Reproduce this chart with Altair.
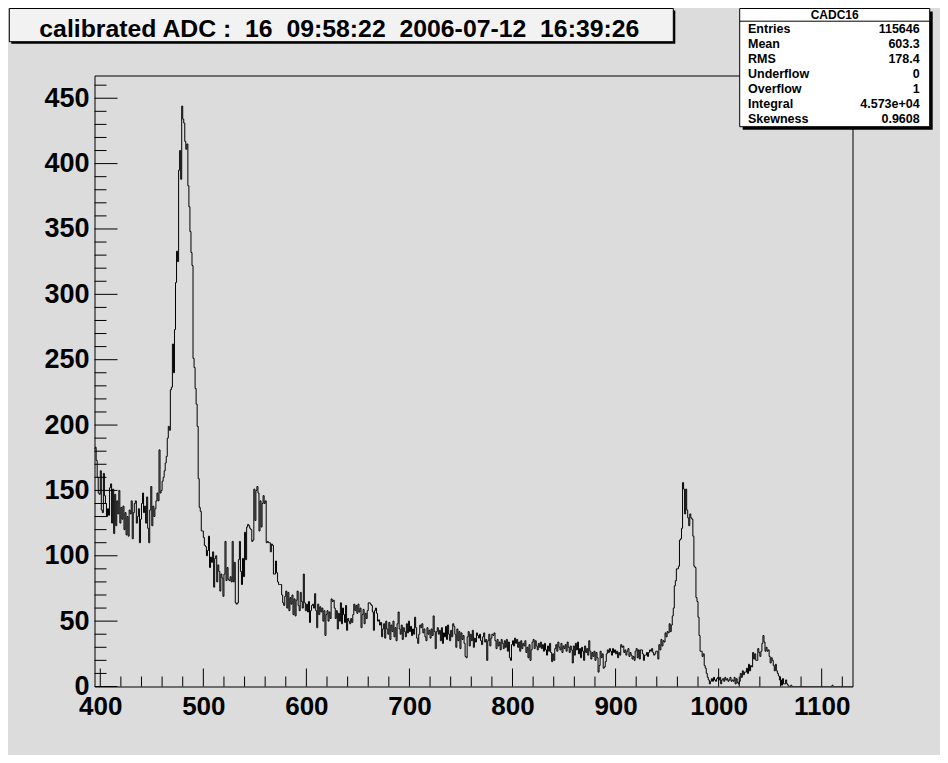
import altair as alt
import pandas as pd

# ---------------- data ----------------
title_text = "calibrated ADC :  16  09:58:22  2006-07-12  16:39:26"
stat_name = "CADC16"
stat_labels = ["Entries", "Mean", "RMS", "Underflow", "Overflow", "Integral", "Skewness"]
stat_values = ["115646", "603.3", "178.4", "0", "1", "4.573e+04", "0.9608"]

x_major = [400, 500, 600, 700, 800, 900, 1000, 1100]
y_major = [0, 50, 100, 150, 200, 250, 300, 350, 400, 450]

# counts per 1-unit ADC bin, each list starts at the bin given in its name
counts_394 = [182, 183, 173, 160, 148, 147, 165, 135, 133, 163,
              146, 140, 130, 136, 131, 152, 155, 125, 151, 117,
              147, 123, 142, 132, 150, 125, 137, 128, 138, 120,
              133, 116, 130, 115, 135, 132, 142, 113, 133, 140,
              142, 125, 130, 136, 110, 128, 140, 148, 133, 138,
              125, 145, 121, 110, 135, 153, 123, 138, 130, 136,
              142, 148, 142, 181, 148, 150, 157, 160, 165, 171,
              176, 190]
counts_466 = [199, 196, 227, 229, 262, 240, 273, 309, 333, 325,
              395, 410, 388, 444, 434, 431, 417, 411, 415, 383,
              367, 348, 332, 322, 251, 244, 228, 216, 199]
counts_495 = [159, 137, 134, 119, 119, 114, 108, 107, 100, 104,
              115, 91, 99, 95, 103, 76, 98, 100, 80, 93,
              88, 73, 86, 83, 69, 86, 111, 81, 91, 82,
              81, 84, 80, 111, 80, 95, 64, 63, 64]
counts_534 = [97, 111, 88, 78, 98, 84, 118, 97, 122, 124,
              123, 121, 120, 111, 112, 151, 127, 150, 153, 148,
              119, 142, 122, 140, 146, 140, 142, 110, 111, 110,
              110, 103, 109, 108, 86, 86, 96, 87, 80, 78,
              78]
counts_575 = [78, 70, 64, 62, 69, 73, 60, 72, 58, 68,
              63, 70, 55, 67, 54, 66, 73, 62, 58, 72,
              65, 60, 86, 64, 58]
counts_600 = [63, 57, 65, 49, 58, 62, 63, 60, 71, 58,
              45, 63, 55, 61, 57, 60, 50, 58, 39, 55,
              58, 50, 57, 52, 67]
counts_625 = [65, 66, 60, 52, 58, 44, 56, 50, 64, 48,
              60, 55, 49, 62, 43, 52, 50, 48, 52, 49,
              55, 63, 58, 62, 56]
counts_650 = [63, 57, 60, 45, 55, 59, 48, 56, 52, 58,
              64, 64, 63, 62, 57, 43, 58, 60, 56, 50,
              51, 47, 49, 38, 44]
counts_675 = [48, 37, 50, 44, 40, 49, 36, 47, 42, 50,
              38, 45, 35, 48, 57, 44, 40, 47, 36, 45,
              42, 38, 48, 41, 50]
counts_700 = [42, 46, 39, 44, 40, 53, 45, 37, 33, 40,
              47, 45, 48, 41, 44, 38, 35, 45, 40, 43,
              37, 44, 39, 54, 42]
counts_725 = [29, 42, 45, 40, 43, 35, 45, 33, 41, 38,
              46, 36, 47, 40, 35, 43, 38, 48, 46, 40,
              30, 44, 35, 42, 29]
counts_750 = [41, 36, 39, 33, 23, 22, 38, 42, 31, 40,
              35, 43, 30, 37, 34, 41, 39, 37, 40, 35,
              32, 38, 41, 34, 36]
counts_775 = [20, 35, 40, 31, 37, 40, 39, 41, 35, 29,
              36, 31, 34, 28, 36, 33, 29, 35, 30, 36,
              27, 34, 22, 20, 32]
counts_800 = [35, 31, 37, 33, 36, 30, 34, 27, 35, 29,
              33, 31, 35, 26, 30, 22, 32, 20, 28, 34,
              36, 29, 35, 31, 28]
counts_825 = [33, 30, 34, 29, 32, 27, 33, 28, 24, 31,
              27, 33, 26, 19, 25, 20, 29, 32, 27, 34,
              30, 28, 33, 26, 31]
counts_850 = [29, 32, 27, 34, 30, 26, 31, 28, 18, 31,
              24, 33, 28, 34, 25, 29, 22, 30, 27, 20,
              31, 26, 29, 24, 35]
counts_875 = [27, 21, 26, 23, 27, 20, 26, 22, 11, 16,
              27, 22, 25, 14, 15, 19, 25, 28, 26, 29,
              27, 24, 29, 26, 28]
counts_900 = [25, 27, 22, 26, 24, 32, 30, 31, 26, 28,
              24, 27, 29, 23, 26, 24, 21, 23, 20, 27,
              29, 22, 28, 21]
counts_924 = [28, 28, 25, 20, 24, 24, 26, 23, 26, 28,
              27, 29, 26, 24, 25, 27, 27, 21, 32, 28,
              36, 31, 35, 34]
counts_948 = [41, 38, 42, 41, 48, 42, 47, 54, 60, 77,
              81, 90, 90, 92, 112, 113, 121, 156, 151, 132,
              151, 135, 129, 123, 132, 129, 128, 115, 92, 91,
              68, 65, 53, 39, 27, 27, 23, 25, 16, 14,
              10, 7, 5, 2, 4]
counts_993 = [6, 4, 7, 5, 4, 6, 7, 5, 7, 2,
              5, 6, 4, 7, 5, 6, 4, 5, 7, 4,
              5, 4, 7, 2, 6, 3, 2, 4, 10, 7,
              12, 9, 11, 11, 14, 10, 17, 12, 16, 15,
              26, 21, 25, 20, 20, 29, 26, 23, 27, 33,
              39, 34, 27, 30, 27, 28, 23, 18, 22, 20,
              16, 12, 17, 12, 10, 8, 5, 5, 1, 6,
              2, 2, 5, 2, 1, 0, 0, 1]
counts_1071 = [0, 0, 0, 0, 0, 0, 0, 0, 0, 0, 0, 0, 0, 0, 0, 0, 0, 0, 0, 0,
               0, 0, 0, 0, 0, 0, 0, 0, 0, 0, 0, 0, 0, 0, 0, 0, 0, 0, 0, 1,
               0, 0, 0, 0, 0, 0, 0, 0, 0, 0, 0, 0, 0, 0, 0, 0, 0, 0, 0, 0]

segments = [
    (394, counts_394), (466, counts_466), (495, counts_495), (534, counts_534),
    (575, counts_575), (600, counts_600), (625, counts_625), (650, counts_650),
    (675, counts_675), (700, counts_700), (725, counts_725), (750, counts_750),
    (775, counts_775), (800, counts_800), (825, counts_825), (850, counts_850),
    (875, counts_875), (900, counts_900), (924, counts_924), (948, counts_948),
    (993, counts_993), (1071, counts_1071),
]

rows = []
for start, vals in segments:
    for i, c in enumerate(vals):
        rows.append({"adc": start + i, "count": c})
# right edge of the last bin closes the step outline
rows.append({"adc": rows[-1]["adc"] + 1, "count": rows[-1]["count"]})
hist = pd.DataFrame(rows)

x_minor = [v for v in range(420, 1121, 20) if v not in x_major]
y_minor = [v for v in range(10, 461, 10) if v not in y_major]

# ---------------- layout ----------------
W, H = 758, 611
BG = "#dcdcdc"
FONT = "Liberation Sans"

x_scale = alt.Scale(domain=[394.4, 1129.9], nice=False, zero=False)
y_scale = alt.Scale(domain=[0, 467.4], nice=False, zero=False)

x_axis = alt.Axis(values=x_major, ticks=False, tickSize=0, domain=False, grid=False,
                  labelFont=FONT, labelFontSize=26, labelFontWeight="bold",
                  labelColor="black", labelPadding=6.5, labelOverlap=False,
                  labelFlush=False, format="d", title=None)
y_axis = alt.Axis(values=y_major, ticks=False, tickSize=0, domain=False, grid=False,
                  labelFont=FONT, labelFontSize=27, labelFontWeight="bold",
                  labelColor="black", labelPadding=5.5, labelOverlap=False,
                  labelFlush=False, format="d", title=None)

hist_line = alt.Chart(hist).mark_line(
    interpolate="step-after", color="black", strokeWidth=1, clip=True
).encode(
    x=alt.X("adc:Q", scale=x_scale, title=None, axis=x_axis),
    y=alt.Y("count:Q", scale=y_scale, title=None, axis=y_axis),
)

xmaj = alt.Chart(pd.DataFrame({"adc": x_major})).mark_rule(color="black", strokeWidth=1).encode(
    x=alt.X("adc:Q", scale=x_scale, title=None, axis=x_axis), y=alt.value(H), y2=alt.value(H - 18))
xmin = alt.Chart(pd.DataFrame({"adc": x_minor})).mark_rule(color="black", strokeWidth=1).encode(
    x=alt.X("adc:Q", scale=x_scale, title=None, axis=x_axis), y=alt.value(H), y2=alt.value(H - 10))
ymaj = alt.Chart(pd.DataFrame({"count": y_major})).mark_rule(color="black", strokeWidth=1).encode(
    y=alt.Y("count:Q", scale=y_scale, title=None, axis=y_axis), x=alt.value(0), x2=alt.value(23))
ymin = alt.Chart(pd.DataFrame({"count": y_minor})).mark_rule(color="black", strokeWidth=1).encode(
    y=alt.Y("count:Q", scale=y_scale, title=None, axis=y_axis), x=alt.value(0), x2=alt.value(12))

one = pd.DataFrame({"a": [0]})

# title pave
title_shadow = alt.Chart(one).mark_rect(color="black").encode(
    x=alt.value(-83.2), x2=alt.value(580.8), y=alt.value(-65), y2=alt.value(-31.8))
title_box = alt.Chart(one).mark_rect(fill="#f2f2f2", stroke="black", strokeWidth=1).encode(
    x=alt.value(-85.2), x2=alt.value(578.8), y=alt.value(-67), y2=alt.value(-33.8))
title_txt = alt.Chart(pd.DataFrame({"t": [title_text.replace("  ", " \u00a0")]})).mark_text(
    align="left", baseline="alphabetic", font=FONT, fontSize=24.8, fontWeight="bold", color="black"
).encode(text="t:N", x=alt.value(-55.2), y=alt.value(-38.8))

# statistics box
stat_shadow = alt.Chart(one).mark_rect(color="black").encode(
    x=alt.value(648.2), x2=alt.value(838.2), y=alt.value(-64), y2=alt.value(54.2))
stat_box = alt.Chart(one).mark_rect(fill="white", stroke="black", strokeWidth=1).encode(
    x=alt.value(645.2), x2=alt.value(835.2), y=alt.value(-67), y2=alt.value(51.2))
stat_sep = alt.Chart(one).mark_rule(color="black", strokeWidth=1).encode(
    x=alt.value(645.2), x2=alt.value(835.2), y=alt.value(-54.3))
stat_head = alt.Chart(pd.DataFrame({"t": [stat_name]})).mark_text(
    align="center", baseline="alphabetic", font=FONT, fontSize=12, fontWeight="bold", color="black"
).encode(text="t:N", x=alt.value(740.2), y=alt.value(-56.6))
stat_lab = alt.Chart(pd.DataFrame({"t": ["\n".join(stat_labels)]})).mark_text(
    align="left", baseline="alphabetic", font=FONT, fontSize=12.5, fontWeight="bold",
    color="black", lineBreak="\n", lineHeight=15.1
).encode(text="t:N", x=alt.value(653.5), y=alt.value(-42.8))
stat_val = alt.Chart(pd.DataFrame({"t": ["\n".join(stat_values)]})).mark_text(
    align="right", baseline="alphabetic", font=FONT, fontSize=12.5, fontWeight="bold",
    color="black", lineBreak="\n", lineHeight=15.1
).encode(text="t:N", x=alt.value(825.2), y=alt.value(-42.8))

chart = alt.layer(
    hist_line, xmin, xmaj, ymin, ymaj,
    title_shadow, title_box, title_txt,
    stat_shadow, stat_box, stat_sep, stat_head, stat_lab, stat_val,
).properties(
    width=W, height=H,
    autosize=alt.AutoSizeParams(type="none"),
    padding={"left": 86.5, "top": 67.5, "right": 87.5, "bottom": 68.5},
).configure(background=BG).configure_view(stroke="black", strokeWidth=1, fill=BG)

chart.save("out.html", embed_options={"renderer": "svg", "actions": False})
